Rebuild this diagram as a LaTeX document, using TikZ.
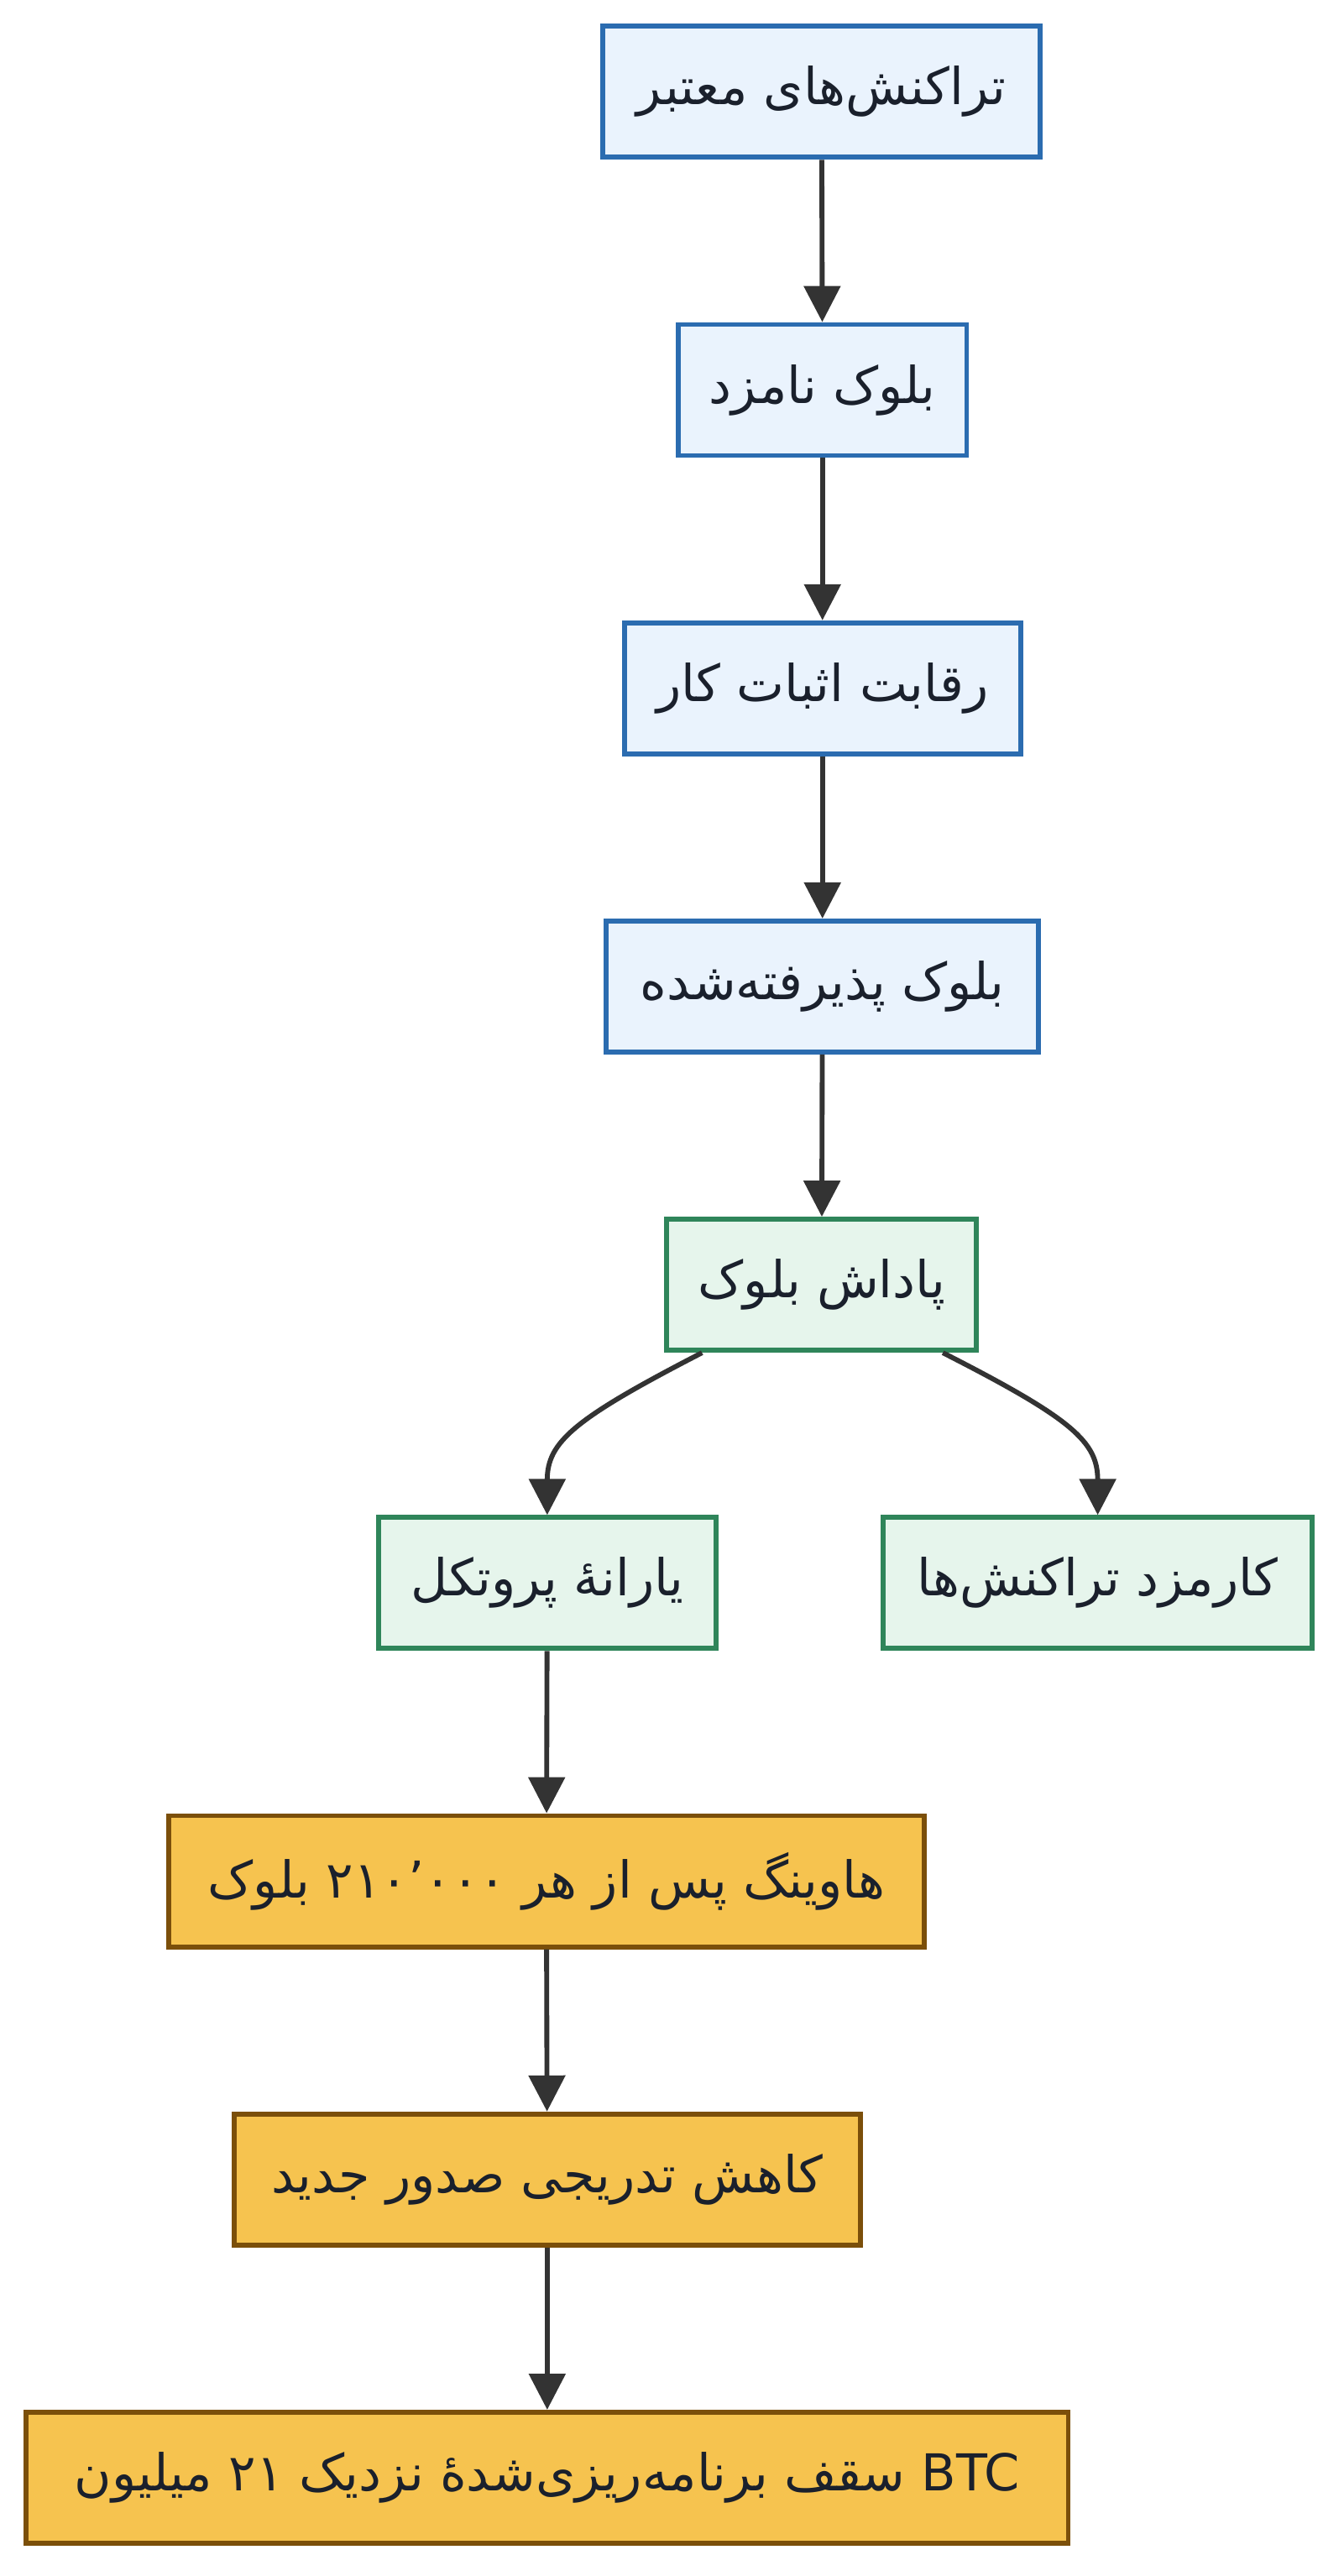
\documentclass[tikz,border=0pt]{standalone}
\usepackage{fontspec}
\setmainfont{DejaVu Sans}
\newfontfamily\fa[Script=Arabic]{DejaVu Sans}
\TeXXeTstate=1
\usetikzlibrary{arrows.meta}
\definecolor{bfill}{HTML}{EAF3FD}\definecolor{bdraw}{HTML}{2B6CB0}
\definecolor{gfill}{HTML}{E6F5EC}\definecolor{gdraw}{HTML}{2F855A}
\definecolor{ofill}{HTML}{F6C34F}\definecolor{odraw}{HTML}{7B4F0A}
\definecolor{txt}{HTML}{1A202C}\definecolor{edge}{HTML}{333333}
\newcommand{\rl}[1]{{\fa\fontsize{31}{36}\selectfont\beginR #1\endR}}
\begin{document}
\begin{tikzpicture}[x=1pt,y=-1pt,
 box/.style={draw,line width=3pt,minimum height=80pt,inner sep=0pt,text=txt,font=\fontsize{31}{36}\selectfont},
 blue/.style={box,fill=bfill,draw=bdraw},
 green/.style={box,fill=gfill,draw=gdraw},
 orange/.style={box,fill=ofill,draw=odraw},
 ar/.style={draw=edge,line width=3pt,-{Triangle[length=22pt,width=22pt]}}]
\useasboundingbox (0,0) rectangle (820,1572);
\node[blue,minimum width=267pt] (n1) at (501.5,56) {\rl{تراکنش‌های معتبر}};
\node[blue,minimum width=176pt] (n2) at (502,238) {\rl{بلوک نامزد}};
\node[blue,minimum width=242pt] (n3) at (502,420) {\rl{رقابت اثبات کار}};
\node[blue,minimum width=264pt] (n4) at (502,602) {\rl{بلوک پذیرفته‌شده}};
\node[green,minimum width=189pt] (n5) at (501.5,784) {\rl{پاداش بلوک}};
\node[green,minimum width=206pt] (n6) at (334,966) {\rl{یارانهٔ پروتکل}};
\node[green,minimum width=262pt] (n7) at (670,966) {\rl{کارمزد تراکنش‌ها}};
\node[orange,minimum width=461pt] (n8) at (333.5,1148) {\rl{هاوینگ پس از هر ۲۱۰٬۰۰۰ بلوک}};
\node[orange,minimum width=382pt] (n9) at (334,1330) {\rl{کاهش تدریجی صدور جدید}};
\node[orange,minimum width=636pt] (n10) at (334,1512) {\rl{سقف برنامه‌ریزی‌شدهٔ نزدیک ۲۱ میلیون} BTC};
\draw[ar] (n1) -- (n2);
\draw[ar] (n2) -- (n3);
\draw[ar] (n3) -- (n4);
\draw[ar] (n4) -- (n5);
\draw[ar] ([xshift=-73pt]n5.south) .. controls (350,866) and (334,880) .. (n6.north);
\draw[ar] ([xshift=74pt]n5.south) .. controls (655,866) and (670,880) .. (n7.north);
\draw[ar] (n6) -- (n8);
\draw[ar] (n8) -- (n9);
\draw[ar] (n9) -- (n10);
\end{tikzpicture}
\end{document}
